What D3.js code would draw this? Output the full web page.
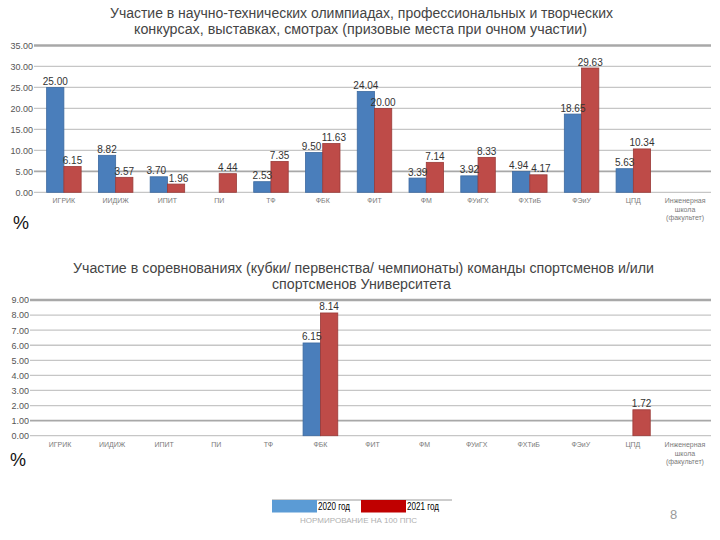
<!DOCTYPE html>
<html><head><meta charset="utf-8">
<script src="https://cdn.jsdelivr.net/npm/d3@7"></script>
<style>body{margin:0;background:#fff}svg{display:block}</style>
</head><body>
<svg id="c" width="720" height="540"></svg>
<script>
const categories = ["ИГРИК","ИИДИЖ","ИПИТ","ПИ","ТФ","ФБК","ФИТ","ФМ","ФУиГХ","ФХТиБ","ФЭиУ","ЦПД","Инженерная школа (факультет)"];
const seriesNames = ["2020 год","2021 год"];
const olymp2020 = [25.00, 8.82, 3.70, null, 2.53, 9.50, 24.04, 3.39, 3.92, 4.94, 18.65, 5.63, null];
const olymp2021 = [6.15, 3.57, 1.96, 4.44, 7.35, 11.63, 20.00, 7.14, 8.33, 4.17, 29.63, 10.34, null];
const sport2020 = [null, null, null, null, null, 6.15, null, null, null, null, null, null, null];
const sport2021 = [null, null, null, null, null, 8.14, null, null, null, null, null, 1.72, null];
const topTicks = [0,5,10,15,20,25,30,35];
const bottomTicks = [0,1,2,3,4,5,6,7,8,9];
const title1 = ["Участие в научно-технических олимпиадах, профессиональных и творческих","конкурсах, выставках, смотрах (призовые места при очном участии)"];
const title2 = ["Участие в соревнованиях (кубки/ первенства/ чемпионаты) команды спортсменов и/или","спортсменов Университета"];

const svg = d3.select("#c");
const FONT = "'Liberation Sans', Arial, sans-serif";
const barFill = ["#4a7ebb","#be4b48"];
const barStroke = ["#3d6aa0","#9a3b39"];

function drawChart(cfg){
  const g = svg.append("g");
  const x0 = d3.scaleBand().domain(categories).range([cfg.x0, cfg.x1]).padding(0);
  const bw = x0.bandwidth();
  const x1 = d3.scaleBand().domain(seriesNames).range([bw/6, bw*5/6]).padding(0);
  const y = d3.scaleLinear().domain([0, cfg.max]).range([cfg.yb, cfg.yt]);

  cfg.ticks.forEach(t=>{
    const strong = cfg.strong.includes(t);
    g.append("line").attr("x1",cfg.x0-4).attr("x2",cfg.x1).attr("y1",y(t)).attr("y2",y(t))
      .attr("stroke", strong ? "#a8a8a8" : "#c6c6c6")
      .attr("stroke-width", t===cfg.max ? 2.5 : (strong?1.8:1.3));
  });
  const ax = d3.axisLeft(y).tickValues(cfg.ticks).tickFormat(d3.format(".2f")).tickSize(0).tickPadding(0);
  const axg = g.append("g").attr("transform",`translate(${cfg.labelX},0)`).call(ax);
  axg.select(".domain").remove();
  axg.selectAll("text").attr("font-family",FONT).attr("font-size",9).attr("fill","#555");

  const series = [cfg.a, cfg.b];
  const all = [];
  series.forEach((vals,si)=>{
    categories.forEach((c,i)=>{ if(vals[i]!=null) all.push({c, i, si, v: vals[i]}); });
  });
  g.selectAll(null).data(all).enter().append("rect")
    .attr("x", d=>x0(d.c)+x1(seriesNames[d.si]))
    .attr("y", d=>y(d.v))
    .attr("width", x1.bandwidth())
    .attr("height", d=>y(0)-y(d.v))
    .attr("fill", d=>barFill[d.si]).attr("stroke", d=>barStroke[d.si]).attr("stroke-width",0.8);
  // label nudge when the pair of labels would collide
  const nudge = d=>{
    const other = series[1-d.si][d.i];
    if(other==null) return 0;
    return Math.abs(y(other)-y(d.v))<11 ? (d.si===0?-2.5:2.5) : 0;
  };
  g.selectAll(null).data(all).enter().append("text")
    .attr("x", d=>x0(d.c)+x1(seriesNames[d.si])+x1.bandwidth()/2+nudge(d))
    .attr("y", d=>y(d.v)-2.5)
    .attr("text-anchor","middle")
    .attr("font-family",FONT).attr("font-size",10).attr("fill","#333")
    .text(d=>d3.format(".2f")(d.v));

  categories.forEach(c=>{
    const cx = x0(c)+bw/2;
    const lines = c.startsWith("Инженерная") ? ["Инженерная","школа","(факультет)"] : [c];
    lines.forEach((ln,i)=>{
      g.append("text").attr("x",cx).attr("y",cfg.catY + i*8.5)
        .attr("text-anchor","middle").attr("font-family",FONT)
        .attr("font-size",7).attr("fill","#7a7a7a").text(ln);
    });
  });

  cfg.title.forEach((t,i)=>{
    g.append("text").attr("x",cfg.titleX[i]).attr("y",cfg.titleY[i])
      .attr("font-family",FONT).attr("font-size",15.5).attr("fill","#444")
      .attr("textLength",cfg.titleW[i]).attr("lengthAdjust","spacingAndGlyphs").text(t);
  });
  g.append("text").attr("x",cfg.pctX).attr("y",cfg.pctY).attr("font-family",FONT)
    .attr("font-size",18).attr("fill","#111").text("%");
}

drawChart({x0:38, x1:711, yt:45.5, yb:192.3, max:35, ticks:topTicks, strong:[5,35], labelX:33,
  a:olymp2020, b:olymp2021, catY:203,
  title:title1, titleX:[110,134], titleY:[18,34], titleW:[503,453], pctX:13, pctY:229});
drawChart({x0:34, x1:711, yt:300, yb:435.7, max:9, ticks:bottomTicks, strong:[1,9], labelX:29,
  a:sport2020, b:sport2021, catY:447,
  title:title2, titleX:[73,272], titleY:[273,289], titleW:[581,179], pctX:10, pctY:466});

const lg = svg.append("g");
lg.append("line").attr("x1",272).attr("x2",452).attr("y1",500).attr("y2",500).attr("stroke","#9a9a9a").attr("stroke-width",1);
const legendFill = ["#5b9bd5","#c00000"];
const legX = [272, 361];
seriesNames.forEach((s,i)=>{
  lg.append("rect").attr("x",legX[i]).attr("y",500).attr("width",45).attr("height",12.5).attr("fill",legendFill[i]);
  lg.append("text").attr("x",legX[i]+46).attr("y",510).attr("font-family",FONT)
    .attr("font-size",10).attr("fill","#000").attr("textLength",32).attr("lengthAdjust","spacingAndGlyphs").text(s);
});
svg.append("text").attr("x",300).attr("y",523).attr("font-family",FONT).attr("font-size",8)
  .attr("fill","#b0b0b0").attr("textLength",117).attr("lengthAdjust","spacingAndGlyphs").text("НОРМИРОВАНИЕ НА 100 ППС");
svg.append("text").attr("x",670).attr("y",519).attr("font-family",FONT).attr("font-size",13)
  .attr("fill","#9a9a9a").text("8");
</script>
</body></html>
